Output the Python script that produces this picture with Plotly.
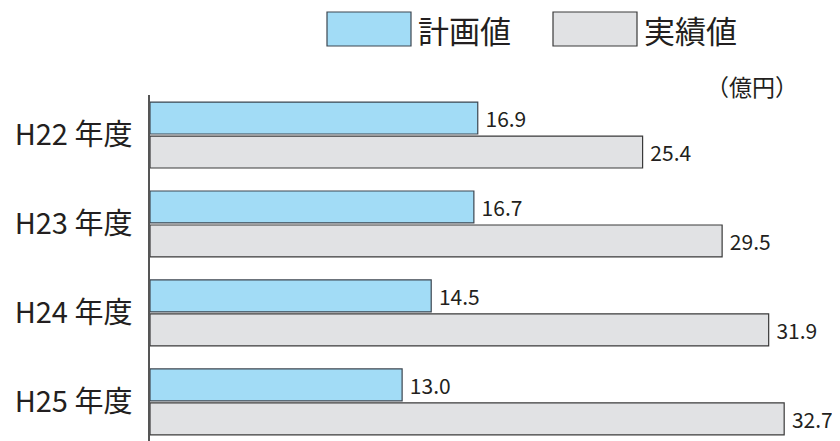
import plotly.graph_objects as go

categories = ["H22 年度", "H23 年度", "H24 年度", "H25 年度"]
plan_values = [16.9, 16.7, 14.5, 13.0]
actual_values = [25.4, 29.5, 31.9, 32.7]
series_names = ["計画値", "実績値"]
unit_label = "（億円）"

FONT = "Noto Sans CJK JP"
TXT = "#231f20"
BLUE = "#a2dcf6"
GRAY = "#e1e2e4"

fig = go.Figure()
fig.add_trace(go.Bar(
    y=categories, x=plan_values, orientation="h", name=series_names[0],
    marker=dict(color=BLUE, line=dict(color="#3c4650", width=1.2)),
    text=[f" {v:.1f}" for v in plan_values], textposition="outside",
    textfont=dict(family=FONT, size=21, color=TXT), cliponaxis=False,
    showlegend=False,
))
fig.add_trace(go.Bar(
    y=categories, x=actual_values, orientation="h", name=series_names[1],
    marker=dict(color=GRAY, line=dict(color="#3a3a3a", width=1.2)),
    text=[f" {v:.1f}" for v in actual_values], textposition="outside",
    textfont=dict(family=FONT, size=21, color=TXT), cliponaxis=False,
    showlegend=False,
))

# page body has an 8px offset; margins compensate so plot area is at screen x 150-790, y 95-441
fig.update_layout(
    width=840, height=441,
    margin=dict(l=142, r=58, t=87, b=8),
    paper_bgcolor="white", plot_bgcolor="white",
    barmode="group", bargap=0.236, bargroupgap=0.06,
    xaxis=dict(range=[0, 33.0], visible=False, fixedrange=True),
    yaxis=dict(
        autorange=False, range=[3.44, -0.45], showgrid=False,
        showline=True, linecolor="#555555", linewidth=1.5,
        ticks="", ticklabelstandoff=10, automargin=False,
        tickfont=dict(family=FONT, size=29, color=TXT),
    ),
    font=dict(family=FONT, color=TXT),
)

L, R, T, B = 150, 790, 95, 441
def px(x):
    return (x - L) / (R - L)
def py(y):
    return (B - y) / (B - T)

fig.update_layout(shapes=[
    dict(type="rect", xref="paper", yref="paper",
         x0=px(327), x1=px(411), y0=py(46), y1=py(12),
         fillcolor=BLUE, line=dict(color="#3c4650", width=1.2)),
    dict(type="rect", xref="paper", yref="paper",
         x0=px(553), x1=px(637), y0=py(46), y1=py(12),
         fillcolor=GRAY, line=dict(color="#3a3a3a", width=1.2)),
])
fig.add_annotation(xref="paper", yref="paper", x=px(417), y=py(30),
                   text=series_names[0], showarrow=False, xanchor="left", yanchor="middle",
                   font=dict(family=FONT, size=31, color=TXT), borderpad=0)
fig.add_annotation(xref="paper", yref="paper", x=px(643), y=py(30),
                   text=series_names[1], showarrow=False, xanchor="left", yanchor="middle",
                   font=dict(family=FONT, size=31, color=TXT), borderpad=0)
fig.add_annotation(xref="paper", yref="paper", x=px(800), y=py(86),
                   text=unit_label, showarrow=False, xanchor="right", yanchor="middle",
                   font=dict(family=FONT, size=23, color=TXT))

fig.write_html("out.html")
